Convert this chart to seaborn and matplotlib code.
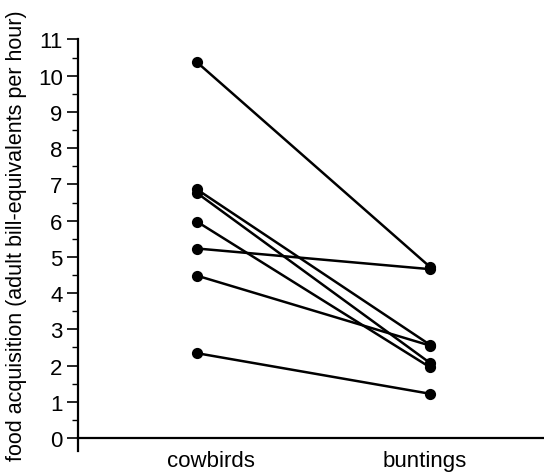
import matplotlib
matplotlib.use("Agg")
import matplotlib.pyplot as plt
from matplotlib.ticker import MultipleLocator
import seaborn as sns
import pandas as pd

# ---- data ----
species = ["cowbirds", "buntings"]
cowbirds = [10.37, 6.86, 6.76, 5.97, 5.23, 4.48, 2.34]
buntings = [4.72, 2.57, 2.07, 1.95, 4.66, 2.55, 1.22]
yticks = list(range(0, 12))
ylabel = "food acquisition (adult bill-equivalents per hour)"

rows = []
for i, (c, b) in enumerate(zip(cowbirds, buntings)):
    rows.append({"pair": i, "species": species[0], "x": 0, "value": c})
    rows.append({"pair": i, "species": species[1], "x": 1, "value": b})
df = pd.DataFrame(rows)

sns.set_style("ticks")
plt.rcParams["font.family"] = ["Liberation Sans", "DejaVu Sans"]

FS = 16

fig = plt.figure(figsize=(5.44, 4.77), dpi=100)
ax = fig.add_axes([78 / 544, 25 / 477, 1 - 78 / 544, (452 - 40.5) / 477])

sns.lineplot(data=df, x="x", y="value", units="pair", estimator=None,
             color="black", lw=1.8, ax=ax, legend=False)
sns.scatterplot(data=df, x="x", y="value", color="black", s=65,
                edgecolor="black", linewidth=0, ax=ax, legend=False, zorder=3)

ax.set_xlim(-0.511, 1.489)
ax.set_ylim(-0.36, 11)

# spines
for s in ["top", "right"]:
    ax.spines[s].set_visible(False)
ax.spines["left"].set_bounds(-0.36, 11)
ax.spines["left"].set_linewidth(1.6)
ax.spines["bottom"].set_position(("data", 0))
ax.spines["bottom"].set_linewidth(1.6)
ax.spines["left"].set_color("black")
ax.spines["bottom"].set_color("black")

ax.set_yticks(yticks)
ax.set_yticklabels([str(t) for t in yticks])
ax.yaxis.set_minor_locator(MultipleLocator(0.5))
ax.tick_params(axis="y", which="major", length=8, width=1.2, pad=3,
               labelsize=FS, color="black", labelcolor="black")
ax.tick_params(axis="y", which="minor", length=4, width=1.0, color="black")

ax.set_xticks([0.06, 0.975])
ax.set_xticklabels(species)
ax.tick_params(axis="x", length=0, pad=9, labelsize=FS, labelcolor="black")

ax.set_xlabel("")
ax.set_ylabel(ylabel, fontsize=15.5, color="black")
ax.yaxis.set_label_coords(-0.11, 0.525)

fig.savefig("out.png", dpi=100)
